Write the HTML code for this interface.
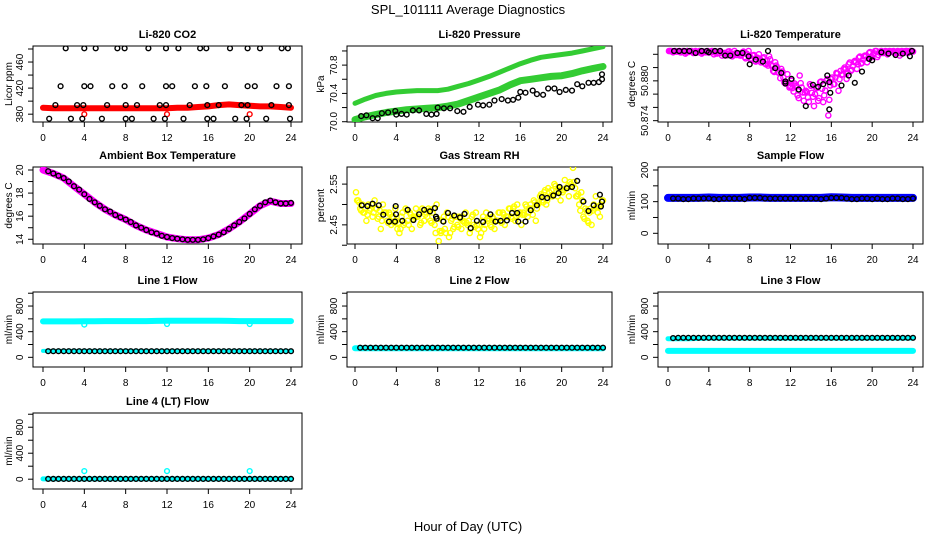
<!DOCTYPE html>
<html><head><meta charset="utf-8">
<style>
html,body{margin:0;padding:0;background:#fff;}
svg{display:block;font-family:"Liberation Sans",sans-serif;}
</style></head>
<body>
<svg id="chart" width="936" height="540" viewBox="0 0 936 540" xmlns="http://www.w3.org/2000/svg">
<rect width="936" height="540" fill="#fff"/>
<text x="468" y="14" font-size="13" text-anchor="middle">SPL_101111  Average Diagnostics</text>
<text x="468" y="531" font-size="13" text-anchor="middle">Hour of Day (UTC)</text>
</svg>
<script>
// ---------- data ----------
const hourly = [0,1,2,3,4,5,6,7,8,9,10,11,12,13,14,15,16,17,18,19,20,21,22,23,24];
const halfHours = [0.5,1,1.5,2,2.5,3,3.5,4,4.5,5,5.5,6,6.5,7,7.5,8,8.5,9,9.5,10,10.5,11,11.5,12,12.5,13,13.5,14,14.5,15,15.5,16,16.5,17,17.5,18,18.5,19,19.5,20,20.5,21,21.5,22,22.5,23,23.5,24];
const xTicks = [0,4,8,12,16,20,24];

// CO2
const co2Red = [390,389,389,389,389,389,389,389,389,389,389,389,389,390,390,391,392,394,395,394,393,392,392,391,390];
const co2BlackX = [2.2,4.0,5.1,7.2,7.9,10.2,11.9,13.1,15.2,15.8,18.1,19.8,21.0,23.1,23.7,
  1.7,4.0,4.6,6.7,7.9,9.6,11.9,12.5,14.7,15.8,17.6,19.8,20.5,22.6,23.8,
  1.2,3.3,3.9,6.2,8.0,9.1,11.3,11.9,14.2,15.9,17.0,19.2,19.8,22.1,23.8,
  0.6,2.7,3.8,5.7,8.0,8.6,10.7,11.8,13.6,15.9,16.5,18.6,19.7,21.6,23.9];
const co2BlackY = [481,481,481,481,481,481,481,481,481,481,481,481,481,481,481,
  423,423,423,423,423,423,423,423,423,423,423,423,423,423,423,
  394,394,394,394,394,394,394,394,394,394,394,394,394,394,394,
  373,373,373,373,373,373,373,373,373,373,373,373,373,373,373];
const co2RedSpikeX = [4,12,20];
const co2RedSpikeY = [380,380,380];

// Pressure
const presUpper = [70.26,70.32,70.37,70.40,70.42,70.43,70.44,70.44,70.44,70.46,70.50,70.54,70.59,70.64,70.70,70.76,70.82,70.87,70.91,70.93,70.95,70.97,71.00,71.03,71.06];
const presLower = [70.03,70.07,70.10,70.13,70.15,70.17,70.18,70.19,70.20,70.22,70.25,70.30,70.35,70.40,70.45,70.52,70.58,70.60,70.62,70.64,70.65,70.68,70.72,70.75,70.78];
const presBlackX = [0.6,1.1,1.7,2.2,2.6,3.2,3.9,4.0,4.5,5.0,5.6,6.2,6.9,7.4,7.9,8.0,8.6,9.2,9.9,10.5,11.1,11.9,12.4,13.0,13.5,14.2,14.8,15.3,15.8,16.0,16.5,17.2,17.6,18.2,18.7,19.3,19.8,20.4,21.0,21.5,22.0,22.6,23.1,23.6,23.9,23.9];
const presBlackY = [70.08,70.09,70.05,70.05,70.12,70.13,70.15,70.10,70.11,70.10,70.16,70.16,70.11,70.10,70.11,70.20,70.19,70.19,70.15,70.14,70.21,70.24,70.23,70.24,70.30,70.32,70.30,70.31,70.34,70.42,70.41,70.44,70.39,70.38,70.47,70.47,70.42,70.45,70.44,70.53,70.50,70.55,70.55,70.56,70.60,70.67];

// Li-820 temperature (magenta every 0.2 h from 0.1)
const tempMag = [50.8845,50.8845,50.8843,50.8845,50.8844, 50.8845,50.8843,50.8845,50.8841,50.8845,
 50.8844,50.8845,50.8842,50.8845,50.8843, 50.8845,50.8841,50.8844,50.8843,50.8845,
 50.8843,50.8845,50.8840,50.8844,50.8842, 50.8845,50.8838,50.8842,50.8840,50.8844,
 50.8842,50.8837,50.8845,50.8839,50.8841, 50.8838,50.8843,50.8836,50.8841,50.8845,
 50.8832,50.8838,50.8830,50.8835,50.8840, 50.8828,50.8834,50.8826,50.8831,50.8837,
 50.8824,50.8815,50.8828,50.8820,50.8812, 50.8818,50.8805,50.8796,50.8810,50.8790,
 50.8800,50.8784,50.8793,50.8778,50.8808, 50.8790,50.8770,50.8785,50.8775,50.8795,
 50.8782,50.8762,50.8790,50.8770,50.8798, 50.8788,50.8778,50.8800,50.8748,50.8793,
 50.8805,50.8795,50.8812,50.8785,50.8815, 50.8810,50.8820,50.8803,50.8825,50.8815,
 50.8822,50.8830,50.8818,50.8835,50.8826, 50.8832,50.8838,50.8828,50.8842,50.8836,
 50.8840,50.8845,50.8836,50.8843,50.8845, 50.8842,50.8845,50.8840,50.8845,50.8844,
 50.8845,50.8843,50.8845,50.8838,50.8845, 50.8844,50.8845,50.8842,50.8845,50.8845];
const tempBlackX = [0.6,1.1,1.6,2.1,2.7,3.3,3.8,4.0,4.6,5.1,5.6,6.1,6.8,7.3,7.9,8.0,8.6,9.3,9.8,10.5,11.1,11.5,11.5,12.1,12.8,13.5,14.2,14.7,15.2,15.6,15.8,15.9,15.8,17.0,17.7,18.3,19.0,19.7,20.0,20.9,21.6,22.3,23.0,23.7,23.9];
const tempBlackY = [50.8845,50.8845,50.8845,50.8845,50.8842,50.8845,50.8845,50.8843,50.8845,50.8845,50.8838,50.8838,50.8842,50.8842,50.8837,50.8825,50.8832,50.8829,50.8845,50.8819,50.8812,50.8799,50.8796,50.8803,50.8787,50.8762,50.8794,50.8791,50.8795,50.8808,50.8798,50.8782,50.8757,50.8793,50.8808,50.8797,50.8814,50.8833,50.8831,50.8843,50.8841,50.8839,50.8841,50.8837,50.8845];

// Ambient box temperature
const ambBand = [20.0,19.7,19.3,18.6,17.9,17.2,16.6,16.1,15.7,15.2,14.8,14.5,14.2,14.05,13.95,13.95,14.1,14.4,14.9,15.5,16.2,16.9,17.3,17.1,17.1];
const ambBlack = [19.9,19.7,19.5,19.3,19.0,18.6,18.3,17.9,17.5,17.2,16.9,16.6,16.4,16.1,15.9,15.7,15.5,15.2,15.0,14.8,14.6,14.5,14.3,14.2,14.1,14.05,14.0,13.95,13.95,13.95,14.0,14.1,14.25,14.4,14.6,14.9,15.2,15.5,15.8,16.2,16.6,16.9,17.2,17.35,17.2,17.1,17.1,17.15];

// Gas stream RH (yellow every 0.2 h from 0.1)
const rhYellow = [2.53,2.51,2.49,2.50,2.48, 2.46,2.50,2.49,2.47,2.51, 2.49,2.47,2.44,2.50,2.48, 2.46,2.48,2.45,2.47,2.49,
 2.44,2.43,2.47,2.45,2.49, 2.46,2.48,2.44,2.47,2.49, 2.47,2.45,2.49,2.46,2.48, 2.49,2.46,2.48,2.45,2.50,
 2.41,2.43,2.46,2.44,2.48, 2.42,2.46,2.44,2.47,2.45, 2.47,2.44,2.46,2.48,2.45, 2.43,2.47,2.45,2.48,2.44,
 2.42,2.46,2.44,2.48,2.46, 2.45,2.47,2.44,2.46,2.48, 2.46,2.48,2.45,2.47,2.49, 2.47,2.49,2.46,2.50,2.48,
 2.45,2.48,2.50,2.47,2.49, 2.49,2.51,2.46,2.50,2.52, 2.51,2.53,2.50,2.54,2.52, 2.52,2.55,2.53,2.54,2.51,
 2.53,2.56,2.54,2.52,2.55, 2.59,2.54,2.52,2.50,2.53, 2.47,2.49,2.46,2.48,2.45, 2.50,2.52,2.48,2.47,2.51];
const rhBlackX = [0.65,1.2,1.7,2.3,2.74,3.3,3.87,3.94,3.97,4.58,5.1,5.65,6.2,6.7,7.26,7.74,7.84,7.9,8.55,9.0,9.6,10.16,10.6,11.2,11.8,12.4,13.1,13.6,14.1,14.7,15.2,15.7,15.8,16.5,17.0,17.6,18.1,18.6,19.2,19.7,19.8,20.5,21.0,21.5,22.1,22.6,23.1,23.7,23.8,23.9];
const rhBlackY = [2.498,2.496,2.502,2.498,2.475,2.458,2.458,2.496,2.476,2.460,2.487,2.462,2.476,2.487,2.483,2.491,2.470,2.465,2.458,2.479,2.473,2.468,2.477,2.442,2.460,2.457,2.476,2.458,2.460,2.461,2.479,2.479,2.458,2.458,2.486,2.498,2.518,2.516,2.522,2.528,2.543,2.540,2.543,2.558,2.507,2.484,2.498,2.524,2.495,2.507];

// Sample flow
const sampleBlue = [112,112,112,112,113,112,112,112,113,113,112,112,112,112,112,112,114,113,112,112,112,112,112,112,112];
const sampleBlack = [110,110,108,108,110,110,110,110,108,108,110,110,110,110,108,112,112,112,110,110,110,110,110,110,110,110,110,110,110,108,110,112,112,112,110,108,108,110,110,108,110,108,108,110,110,108,108,110];

// Line 1
const line1CyanHigh = [560,560,560,560,562,562,565,565,565,565,565,568,570,572,572,572,572,570,568,565,565,565,565,565,565];
const line1DipX = [4,12,20];
const line1DipY = [510,520,520];
const line1CyanLow = [100,100,100,100,100,100,100,100,100,100,100,100,100,100,100,100,100,100,100,100,100,100,100,100,100];
const line1Black = [95,95,95,95,95,95,95,95,95,95,95,95,95,95,95,95,95,95,95,95,95,95,95,95,95,95,95,95,95,95,95,95,95,95,95,95,95,95,95,95,95,95,95,95,95,95,95,95];
// Line 2
const line2Cyan = [140,140,140,140,140,140,140,140,140,140,140,140,140,140,140,140,140,140,140,140,140,140,140,140,140];
const line2Black = [150,150,150,150,150,150,150,150,150,150,150,150,150,150,150,150,150,150,150,150,150,150,150,150,150,150,150,150,150,150,150,150,150,150,150,150,150,150,150,150,150,150,150,150,150,150,150,150];
// Line 3
const line3CyanLow = [100,100,100,100,100,100,100,100,100,100,100,100,100,100,100,100,100,100,100,100,100,100,100,100,100];
const line3CyanHigh = [290,290,290,295,300,300,300,300,300,300,300,300,300,300,300,300,300,300,300,300,300,300,300,300,300];
const line3Black = [300,305,305,305,305,305,305,305,305,305,305,305,305,305,305,305,305,305,305,305,305,305,305,305,305,305,305,305,305,305,305,305,305,305,305,305,305,305,305,305,305,305,305,305,305,305,305,305];
// Line 4
const line4Cyan = [5,5,5,5,5,5,5,5,5,5,5,5,5,5,5,5,5,5,5,5,5,5,5,5,5];
const line4Black = [5,5,5,5,5,5,5,5,5,5,5,5,5,5,5,5,5,5,5,5,5,5,5,5,5,5,5,5,5,5,5,5,5,5,5,5,5,5,5,5,5,5,5,5,5,5,5,5];
const line4SpikeX = [4,12,20];
const line4SpikeY = [125,125,125];

// ---------- drawing ----------
const NS = "http://www.w3.org/2000/svg";
const svg = document.getElementById("chart");
const COLS = [{l:33,r:302,x0:43,x24:291,yl:9},{l:347,r:612,x0:355,x24:603,yl:321},{l:658,r:923,x0:668,x24:913,yl:632}];
const ROWS = [{t:46,b:122},{t:167,b:244},{t:292,b:367},{t:413,b:489}];

function mk(tag, attrs, parent){
  const e = document.createElementNS(NS, tag);
  for (const k in attrs) e.setAttribute(k, attrs[k]);
  (parent||svg).appendChild(e);
  return e;
}

function makePanel(id, col, row, title, ylab, ymin, ymax, yticks, ylabels){
  const C = COLS[col], R = ROWS[row];
  const g = mk("g", {});
  
  
  const sx = h => C.x0 + (C.x24 - C.x0) * h / 24;
  const sy = v => R.b - (R.b - R.t) * (v - ymin) / (ymax - ymin);
  const cp = mk("clipPath", {id: "clip-" + id}, g);
  mk("rect", {x: C.l, y: R.t, width: C.r - C.l, height: R.b - R.t}, cp);
  const t = mk("text", {x: (C.l + C.r) / 2, y: R.t - 8, "font-size": 11, "font-weight": "bold", "text-anchor": "middle"}, g);
  t.textContent = title;
  
  
  const yt = mk("text", {x: 0, y: 0, "font-size": 10, "text-anchor": "middle", transform: `translate(${C.yl + 3},${(R.t + R.b) / 2}) rotate(-90)`}, g);
  yt.textContent = ylab;
  
  
  const axes = mk("g", {stroke: "#000", "stroke-width": 1}, g);
  
  
  mk("rect", {x: C.l, y: R.t, width: C.r - C.l, height: R.b - R.t, fill: "none"}, axes);
  xTicks.forEach(h => {
    mk("line", {x1: sx(h), x2: sx(h), y1: R.b, y2: R.b + 5}, axes);
    const lab = mk("text", {x: sx(h), y: R.b + 19, "font-size": 10, "text-anchor": "middle", stroke: "none"}, g);
    lab.textContent = h;
    
    
  });
  const yx = C.l;
  yticks.forEach(v => mk("line", {x1: yx - 5, x2: yx, y1: sy(v), y2: sy(v)}, axes));
  ylabels.forEach(v => {
    const lab = mk("text", {x: 0, y: 0, "font-size": 10, "text-anchor": "middle", transform: `translate(${yx - 10},${sy(+v)}) rotate(-90)`}, g);
    lab.textContent = v;
    
    
  });
  const plot = mk("g", {"clip-path": `url(#clip-${id})`}, g);
  
  
  return {
    band(xs, ys, color, w, name){
      const pts = xs.map((h, i) => sx(h).toFixed(1) + "," + sy(ys[i]).toFixed(1)).join(" ");
      const p = mk("polyline", {points: pts, fill: "none", stroke: color, "stroke-width": w, "stroke-linecap": "round", "stroke-linejoin": "round"}, plot);
      
      
    },
    pts(xs, ys, color, name, r){
      const sg = mk("g", {fill: "none", stroke: color, "stroke-width": 1.4}, plot);
      
      
      xs.forEach((h, i) => {
        const c = mk("circle", {cx: sx(h).toFixed(1), cy: sy(ys[i]).toFixed(1), r: r || 2.4}, sg);
        
        
      });
    }
  };
}

const fifthHours = rhYellow.map((v, i) => 0.1 + i * 0.2);

let p = makePanel("co2", 0, 0, "Li-820 CO2", "Licor ppm", 368, 484.6, [380,400,420,440,460,480], ["380","420","460"]);
p.band(hourly, co2Red, "#f00", 6, "red-band");
p.pts(co2RedSpikeX, co2RedSpikeY, "#f00", "red-points");
p.pts(co2BlackX, co2BlackY, "#000", "black-points");

p = makePanel("pressure", 1, 0, "Li-820 Pressure", "kPa", 69.996, 71.07, [70.0,70.2,70.4,70.6,70.8,71.0], ["70.0","70.4","70.8"]);
p.band(hourly, presUpper, "#33cc33", 5, "upper-band");
p.band(hourly, presLower, "#33cc33", 7, "lower-band");
p.pts(presBlackX, presBlackY, "#000", "black-points");

p = makePanel("li820-temp", 2, 0, "Li-820 Temperature", "degrees C", 50.8738, 50.88525, [50.874,50.876,50.878,50.880,50.882,50.884], ["50.874","50.880"]);
p.pts(fifthHours, tempMag, "#ff00ff", "magenta-points", 2.6);
p.pts(fifthHours.map(h => h + 0.1), tempMag.map((v, i) => tempMag[(i + 3) % tempMag.length] * 0.5 + v * 0.5), "#ff00ff", "magenta-points-b", 2.6);
p.pts(tempBlackX, tempBlackY, "#000", "black-points");

p = makePanel("ambient", 0, 1, "Ambient Box Temperature", "degrees C", 13.59, 20.26, [14,15,16,17,18,19,20], ["14","16","18","20"]);
p.band(hourly, ambBand, "#ff00ff", 7, "magenta-band");
p.pts(halfHours, ambBlack, "#000", "black-points");

p = makePanel("rh", 1, 1, "Gas Stream RH", "percent", 2.403, 2.592, [2.40,2.45,2.50,2.55], ["2.45","2.55"]);
p.pts(fifthHours, rhYellow, "#ffff00", "yellow-points", 2.6);
p.pts(fifthHours.map(h => h + 0.1), rhYellow.map((v, i) => (v + rhYellow[(i + 2) % rhYellow.length]) / 2), "#ffff00", "yellow-points-b", 2.6);
p.pts(rhBlackX, rhBlackY, "#000", "black-points");

p = makePanel("sample-flow", 2, 1, "Sample Flow", "ml/min", -33.8, 209.5, [0,50,100,150,200], ["0","100","200"]);
p.band(hourly, sampleBlue, "#0000ff", 8, "blue-band");
p.pts(halfHours, sampleBlack, "#000", "black-points");

p = makePanel("line1", 0, 2, "Line 1 Flow", "ml/min", -151, 1019, [0,200,400,600,800,1000], ["0","400","800"]);
p.band(hourly, line1CyanHigh, "#00ffff", 6, "cyan-high-band");
p.pts(line1DipX, line1DipY, "#00ffff", "cyan-dips");
p.band(hourly, line1CyanLow, "#00ffff", 4, "cyan-low-band");
p.pts(halfHours, line1Black, "#000", "black-points");

p = makePanel("line2", 1, 2, "Line 2 Flow", "ml/min", -151, 1019, [0,200,400,600,800,1000], ["0","400","800"]);
p.band(hourly, line2Cyan, "#00ffff", 6, "cyan-band");
p.pts(halfHours, line2Black, "#000", "black-points");

p = makePanel("line3", 2, 2, "Line 3 Flow", "ml/min", -151, 1019, [0,200,400,600,800,1000], ["0","400","800"]);
p.band(hourly, line3CyanLow, "#00ffff", 6, "cyan-low-band");
p.band(hourly, line3CyanHigh, "#00ffff", 5, "cyan-high-band");
p.pts(halfHours, line3Black, "#000", "black-points");

p = makePanel("line4", 0, 3, "Line 4 (LT) Flow", "ml/min", -151, 1019, [0,200,400,600,800,1000], ["0","400","800"]);
p.band(hourly, line4Cyan, "#00ffff", 5, "cyan-band");
p.pts(line4SpikeX, line4SpikeY, "#00ffff", "cyan-spikes");
p.pts(halfHours, line4Black, "#000", "black-points");
</script>
</body></html>
